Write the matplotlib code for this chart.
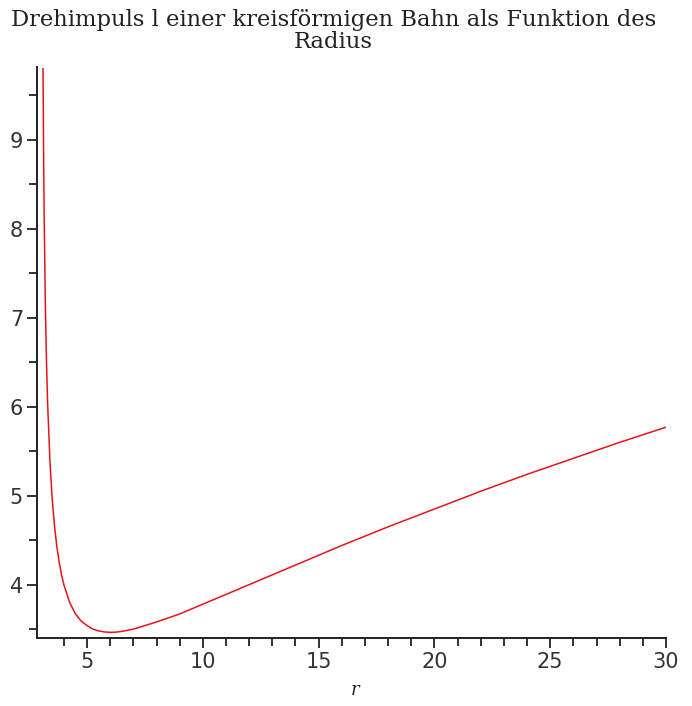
import numpy as np
import matplotlib
matplotlib.use('Agg')
import matplotlib.pyplot as plt
from matplotlib.ticker import MultipleLocator, FixedLocator

# radius r and angular momentum l of the circular orbit
radius = [3.10, 3.12, 3.15, 3.20, 3.25, 3.30, 3.40, 3.50, 3.60, 3.70, 3.80, 3.90,
          4.00, 4.25, 4.50, 4.75, 5.00, 5.25, 5.50, 5.75, 6.00, 6.25, 6.50, 7.00,
          7.50, 8.00, 9.00, 10.0, 11.0, 12.0, 14.0, 16.0, 18.0, 20.0, 22.0, 24.0,
          26.0, 28.0, 30.0]
drehimpuls = [9.80, 9.01, 8.13, 7.16, 6.50, 6.03, 5.38, 4.95, 4.65, 4.42, 4.25, 4.11,
              4.00, 3.80, 3.67, 3.59, 3.54, 3.50, 3.48, 3.468, 3.464, 3.466, 3.474, 3.50,
              3.54, 3.58, 3.67, 3.78, 3.89, 4.00, 4.22, 4.44, 4.65, 4.85, 5.05, 5.24,
              5.42, 5.60, 5.77]

title = "Drehimpuls l einer kreisförmigen Bahn als Funktion des\nRadius"

fig = plt.figure(figsize=(6.92, 7.06), dpi=100)
ax = fig.add_axes([37/692, 68/706, 629/692, 571/706])

ax.plot(radius, drehimpuls, color='#e8141c', lw=1.1)

ax.set_xlim(2.84, 30)
ax.set_ylim(3.40, 9.82)

for s in ['top', 'right']:
    ax.spines[s].set_visible(False)
for s in ['left', 'bottom']:
    ax.spines[s].set_linewidth(1.4)
    ax.spines[s].set_color('#222222')

ax.xaxis.set_major_locator(MultipleLocator(5))
ax.xaxis.set_minor_locator(FixedLocator(np.arange(4, 30, 1)))
ax.yaxis.set_major_locator(MultipleLocator(1))
ax.yaxis.set_minor_locator(MultipleLocator(0.5))
ax.tick_params(which='major', length=7, width=1.3, color='#222222',
               labelsize=15, labelcolor='#333333', pad=3)
ax.tick_params(which='minor', length=6, width=1.3, color='#222222')
for lab in ax.get_xticklabels() + ax.get_yticklabels():
    lab.set_family('DejaVu Sans')

fig.text(0.482, 1 - 31/706, title, ha='center', va='center', fontsize=16.3,
         family='DejaVu Serif', color='#222222', linespacing=1.0)
fig.text(355/692, 1 - 690/706, 'r', ha='center', va='center', fontsize=13,
         family='DejaVu Serif', style='italic', color='#222222')

fig.savefig('out.png', dpi=100)
